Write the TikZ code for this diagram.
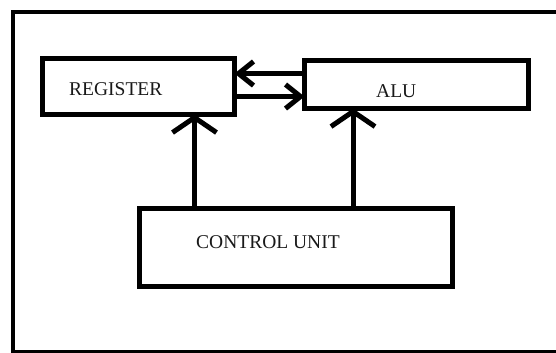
\documentclass[tikz,border=0pt]{standalone}
\usepackage{fontspec}
\setmainfont{Liberation Serif}
\usetikzlibrary{arrows.meta}
\begin{document}
\begin{tikzpicture}[x=1bp,y=-1bp,
  blockbox/.style={draw=black,line width=5bp,inner sep=0pt,outer sep=0pt,rectangle},
  lbl/.style={anchor=base west,inner sep=0pt,font=\fontsize{19.5bp}{20bp}\selectfont,text=black!90},
  varrow/.style={line width=5bp,-{Straight Barb[length=15bp,width=44bp]}},
  harrow/.style={line width=5bp,-{Straight Barb[length=15bp,width=24bp]}}]
\useasboundingbox (0,0) rectangle (556,352);
\clip (0,0) rectangle (556,352);
\fill[white] (0,0) rectangle (556,352);
% outer frame
\draw[line width=4.5bp] (13,12) rectangle (562,352);
% blocks
\node[blockbox,minimum width=192bp,minimum height=56bp] (reg) at (138.5,86.5) {};
\node[blockbox,minimum width=223.5bp,minimum height=48.5bp] (alu) at (416.25,84.25) {};
\node[blockbox,minimum width=313bp,minimum height=78.5bp] (cu) at (295.5,247.25) {};
% labels
\node[lbl] (treg) at (69,95) {REGISTER};
\node[lbl] (talu) at (376,97) {ALU};
\node[lbl] (tcu) at (196,248) {CONTROL UNIT};
% helper coordinates
\coordinate (xr) at (194.5,0);
\coordinate (xa) at (353,0);
\coordinate (yu) at (0,73.5);
\coordinate (yl) at (0,96.5);
% connectors
\draw[varrow] (cu.north -| xr) -- (reg.south -| xr);
\draw[varrow] (cu.north -| xa) -- (alu.south -| xa);
\draw[harrow] (alu.west |- yu) -- (reg.east |- yu);
\draw[harrow] (reg.east |- yl) -- (alu.west |- yl);
\end{tikzpicture}
\end{document}
